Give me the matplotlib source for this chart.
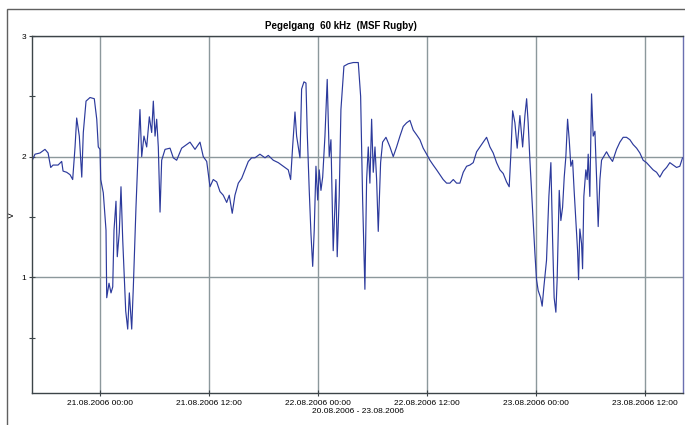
import numpy as np
import pandas as pd
import matplotlib
matplotlib.use("Agg")
import matplotlib.pyplot as plt
import matplotlib.dates as mdates
from matplotlib.patches import Rectangle

# hours after 21.08.2006 00:00, level in volts
hours = [
    -7.52, -7.16, -6.61, -6.06, -5.72, -5.43, -5.17, -4.62, -4.22, -4.07,
    -3.67, -3.30, -3.01, -2.75, -2.57, -2.28, -2.01, -1.84, -1.54, -1.10,
    -0.63, -0.36, -0.19, 0.00, 0.08, 0.36, 0.66, 0.74, 0.99, 1.21,
    1.40, 1.54, 1.76, 1.90, 2.12, 2.31, 2.50, 2.64, 2.83, 3.05,
    3.23, 3.49, 3.67, 3.96, 4.22, 4.40, 4.59, 4.84, 5.14, 5.43,
    5.69, 5.87, 6.06, 6.24, 6.42, 6.61, 6.79, 7.16, 7.71, 8.07,
    8.44, 8.99, 9.54, 9.91, 10.46, 11.01, 11.37, 11.75, 12.11, 12.47,
    12.85, 13.21, 13.57, 13.95, 14.23, 14.56, 14.86, 15.23, 15.60, 15.96,
    16.33, 16.70, 17.06, 17.61, 18.17, 18.53, 19.08, 19.63, 20.18, 20.73,
    20.99, 21.21, 21.47, 21.65, 22.02, 22.20, 22.46, 22.68, 22.82, 23.04,
    23.23, 23.42, 23.59, 23.78, 23.97, 24.14, 24.33, 24.52, 24.77, 25.02,
    25.24, 25.43, 25.68, 25.98, 26.12, 26.34, 26.53, 26.86, 27.34, 27.89,
    28.44, 28.70, 28.92, 29.17, 29.36, 29.54, 29.72, 29.91, 30.09, 30.28,
    30.46, 30.64, 30.90, 31.12, 31.49, 31.93, 32.29, 32.66, 33.03, 33.39,
    33.76, 34.13, 34.49, 34.87, 35.23, 35.59, 35.97, 36.33, 36.69, 37.07,
    37.43, 37.79, 38.17, 38.53, 38.90, 39.27, 39.63, 40.00, 40.37, 40.73,
    41.10, 41.47, 41.83, 42.20, 42.57, 42.94, 43.30, 43.67, 44.04, 44.40,
    44.77, 45.06, 45.25, 45.44, 45.69, 45.94, 46.24, 46.54, 46.79, 46.98,
    47.15, 47.34, 47.52, 47.70, 47.89, 48.07, 48.25, 48.52, 48.69, 48.88,
    49.17, 49.43, 49.65, 49.84, 50.01, 50.20, 50.34, 50.57, 50.75, 50.94,
    51.12, 51.30, 51.49, 51.67, 51.85, 52.04, 52.21, 52.40, 52.59, 52.70,
    52.84, 53.03, 53.14, 53.28, 53.50, 53.65, 53.76, 53.94, 54.13, 54.31,
    54.50, 54.68, 54.86, 55.05, 55.23, 55.78, 56.07, 56.44, 56.88, 57.25,
    57.61, 57.98, 58.35, 58.71, 59.09, 59.45, 59.81, 60.18, 60.55, 60.91,
    61.29, 61.65, 62.02, 62.39, 62.75, 63.12, 63.49, 63.85, 64.15,
]
volts = [
    1.96, 2.02, 2.03, 2.06, 2.03, 1.91, 1.93, 1.93, 1.96, 1.88,
    1.87, 1.85, 1.81, 2.08, 2.32, 2.17, 1.83, 2.20, 2.46, 2.49,
    2.48, 2.31, 2.08, 2.06, 1.81, 1.70, 1.39, 0.83, 0.95, 0.87,
    0.92, 1.39, 1.63, 1.17, 1.37, 1.75, 1.31, 1.06, 0.72, 0.57,
    0.87, 0.57, 0.92, 1.58, 2.08, 2.39, 2.00, 2.17, 2.08, 2.33,
    2.20, 2.46, 2.17, 2.31, 2.08, 1.54, 1.97, 2.06, 2.07, 1.99,
    1.97, 2.07, 2.10, 2.12, 2.06, 2.12, 2.00, 1.96, 1.75, 1.81,
    1.79, 1.71, 1.68, 1.62, 1.68, 1.53, 1.68, 1.78, 1.82, 1.89,
    1.96, 1.99, 1.99, 2.02, 1.99, 2.01, 1.97, 1.95, 1.92, 1.89,
    1.81, 2.08, 2.37, 2.17, 1.99, 2.56, 2.62, 2.61, 2.20, 1.72,
    1.36, 1.09, 1.39, 1.92, 1.64, 1.89, 1.72, 1.83, 2.17, 2.64,
    2.00, 2.14, 1.22, 1.81, 1.17, 1.67, 2.39, 2.75, 2.77, 2.78,
    2.78, 2.50, 1.64, 0.90, 1.81, 2.08, 1.78, 2.31, 1.87, 2.08,
    1.81, 1.38, 1.95, 2.12, 2.16, 2.08, 2.00, 2.08, 2.17, 2.25,
    2.28, 2.30, 2.22, 2.18, 2.14, 2.07, 2.02, 1.97, 1.93, 1.89,
    1.85, 1.81, 1.78, 1.78, 1.81, 1.78, 1.78, 1.87, 1.92, 1.93,
    1.95, 2.04, 2.08, 2.12, 2.16, 2.08, 2.03, 1.95, 1.89, 1.86,
    1.79, 1.75, 2.03, 2.38, 2.28, 2.07, 2.34, 2.08, 2.34, 2.48,
    2.28, 1.97, 1.72, 1.47, 1.20, 0.98, 0.89, 0.83, 0.76, 0.92,
    1.14, 1.67, 1.95, 1.31, 0.83, 0.71, 0.98, 1.72, 1.47, 1.58,
    1.83, 2.00, 2.31, 2.14, 1.92, 1.97, 1.72, 1.47, 1.22, 0.98,
    1.40, 1.28, 1.07, 1.67, 1.89, 1.81, 2.02, 1.67, 2.52, 2.17,
    2.21, 1.83, 1.42, 1.81, 1.97, 2.04, 2.00, 1.96, 2.06, 2.12,
    2.16, 2.16, 2.14, 2.10, 2.07, 2.03, 1.97, 1.95, 1.92, 1.89,
    1.87, 1.83, 1.88, 1.91, 1.95, 1.93, 1.91, 1.92, 1.99,
]

START = pd.Timestamp("2006-08-21 00:00")
X_FROM_H = -7.49
X_TO_H = 64.2

LINE_COL = "#2c3a9c"
GRID_COL = "#8c989c"
AX_COL = "#3c4448"

plt.rcParams["font.family"] = ["Liberation Sans", "DejaVu Sans"]

times = START + pd.to_timedelta(hours, unit="h")

fig = plt.figure(figsize=(6.85, 4.25), dpi=100)
# outer frame of the screenshot
fig.patches.append(Rectangle((7 / 685, -0.1), 1.1, 1 - 9 / 425 + 0.1,
                             transform=fig.transFigure, fill=False,
                             edgecolor="#606060", linewidth=1.0))

ax = fig.add_axes([32 / 685, 1 - 393 / 425, 651 / 685, 357 / 425])
ax.plot(times, volts, color=LINE_COL, linewidth=0.85)

ax.set_xlim(START + pd.Timedelta(hours=X_FROM_H), START + pd.Timedelta(hours=X_TO_H))
ax.set_ylim(0.04, 3.0)

ax.xaxis.set_major_locator(mdates.HourLocator(byhour=[0, 12]))
ax.xaxis.set_major_formatter(mdates.DateFormatter("%d.%m.%Y %H:%M"))
ax.set_yticks([1, 2, 3])
ax.set_yticks([0.5, 1.5, 2.5], minor=True)
ax.set_yticklabels(["1", "2", "3"])

ax.grid(True, which="major", color=GRID_COL, linewidth=1.0)
ax.tick_params(axis="both", which="both", direction="inout", length=4,
               width=0.8, color=AX_COL, labelsize=6, pad=2)
ax.tick_params(axis="x", pad=3)
for side in ["left", "bottom", "top", "right"]:
    ax.spines[side].set_color(AX_COL)
    ax.spines[side].set_linewidth(1.0)
ax.spines["right"].set_color("#6a6fb0")

ax.set_ylabel("V", fontsize=6.5, labelpad=4)
ax.set_xlabel("20.08.2006 - 23.08.2006", fontsize=6, labelpad=1)
fig.text(341 / 685, 1 - 26 / 425, "Pegelgang  60 kHz  (MSF Rugby)",
         ha="center", va="center", fontsize=7, fontweight="bold")

fig.savefig("out.png", dpi=100)
